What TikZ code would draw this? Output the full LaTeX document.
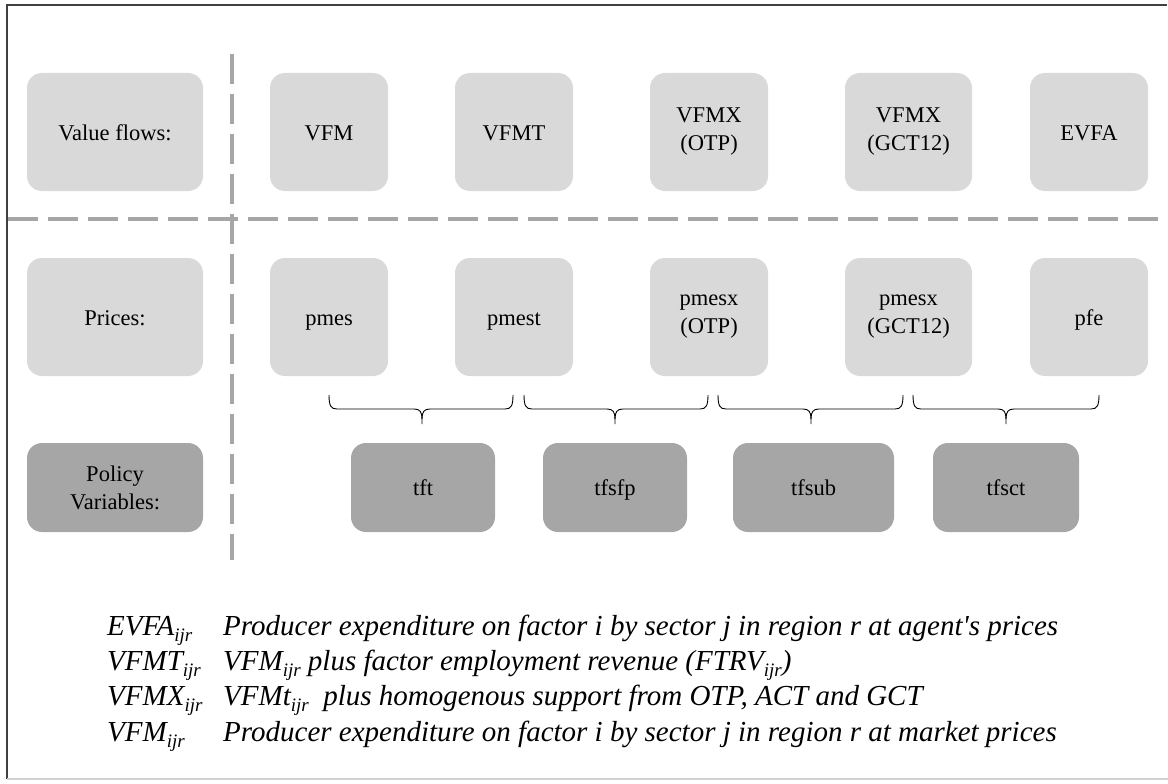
\documentclass[tikz,border=0pt]{standalone}
\usepackage{fontspec}
\setmainfont{Liberation Serif}
\definecolor{boxlight}{HTML}{D9D9D9}
\definecolor{boxdark}{HTML}{A6A6A6}
\definecolor{dashgray}{HTML}{A6A6A6}
\definecolor{framedark}{HTML}{404040}
\definecolor{framelight}{HTML}{D0D0D0}
\newcommand\ijr{\raisebox{-6pt}{\fontsize{19}{19}\selectfont ijr}}
\begin{document}
\begin{tikzpicture}[x=1pt,y=-1pt,
  boxbase/.style={rounded corners=15pt, inner sep=0pt, font=\fontsize{22.5}{28}\selectfont, text=black},
  oneline/.style={text height=16pt, text depth=0pt},
  twoline/.style={align=center},
  lightbox/.style={boxbase, fill=boxlight, minimum height=118pt},
  darkbox/.style={boxbase, fill=boxdark, minimum height=89pt},
  divider/.style={draw=dashgray, line width=4pt, dash pattern=on 30pt off 10pt},
  bracepath/.style={draw=black, line width=0.9pt},
  keytext/.style={font=\fontsize{29}{35}\selectfont\itshape, inner sep=0pt, anchor=base west},
]
\useasboundingbox (0,0) rectangle (1168,784);
% frame
\draw[draw=framedark, line width=1.5pt] (7,779) -- (7,5) -- (1167,5);
\draw[draw=framelight, line width=1.5pt] (7,779) -- (1168,779);
% dividers
\draw[divider] (8,219) -- (1161,219);
\draw[divider] (232,54) -- (232,560);
% value flows row
\node[lightbox, oneline, minimum width=176pt] (vflab) at (115,132) {Value flows:};
\node[lightbox, oneline, minimum width=118pt] (vfm) at (329,132) {VFM};
\node[lightbox, oneline, minimum width=118pt] (vfmt) at (514,132) {VFMT};
\node[lightbox, twoline, minimum width=118pt] (vfmxo) at (709,132) {VFMX\\(OTP)};
\node[lightbox, twoline, minimum width=127pt] (vfmxg) at (908.5,132) {VFMX\\(GCT12)};
\node[lightbox, oneline, minimum width=118pt] (evfa) at (1089,132) {EVFA};
% prices row
\node[lightbox, oneline, minimum width=176pt] (prlab) at (115,317) {Prices:};
\node[lightbox, oneline, minimum width=118pt] (pmes) at (329,317) {pmes};
\node[lightbox, oneline, minimum width=118pt] (pmest) at (514,317) {pmest};
\node[lightbox, twoline, minimum width=118pt] (pmesxo) at (709,317) {pmesx\\(OTP)};
\node[lightbox, twoline, minimum width=127pt] (pmesxg) at (908.5,317) {pmesx\\(GCT12)};
\node[lightbox, oneline, minimum width=118pt] (pfe) at (1089,317) {pfe};
% policy row
\node[darkbox, twoline, minimum width=176pt] (polab) at (115,487.5) {Policy\\Variables:};
\node[darkbox, oneline, minimum width=144pt] (tft) at (423,487.5) {tft};
\node[darkbox, oneline, minimum width=144pt] (tfsfp) at (615,487.5) {tfsfp};
\node[darkbox, oneline, minimum width=161pt] (tfsub) at (813.5,487.5) {tfsub};
\node[darkbox, oneline, minimum width=146pt] (tfsct) at (1006,487.5) {tfsct};
% braces
\foreach \a/\m/\b in {329/422/513, 524/615/708, 718/811/903, 913/1006/1099}{
  \draw[bracepath] (\a,395) .. controls (\a,406) and ({\a+2},409) .. ({\a+8},409)
     -- ({\m-8},409) .. controls ({\m-2},409) and (\m,412) .. (\m,419) -- (\m,424);
  \draw[bracepath] (\m,419) .. controls (\m,412) and ({\m+2},409) .. ({\m+8},409)
     -- ({\b-8},409) .. controls ({\b-2},409) and (\b,406) .. (\b,395);
}
% key
\node[keytext] (k1) at (107,635) {EVFA\ijr};
\node[keytext] (d1) at (223,635) {Producer expenditure on factor i by sector j in region r at agent\textquotesingle s prices};
\node[keytext] (k2) at (107,670) {VFMT\ijr};
\node[keytext] (d2) at (223,670) {VFM\ijr{} plus factor employment revenue (FTRV\ijr)};
\node[keytext] (k3) at (107,705) {VFMX\ijr};
\node[keytext] (d3) at (223,705) {VFMt\ijr\ \ plus homogenous support from OTP, ACT and GCT};
\node[keytext] (k4) at (107,741) {VFM\ijr};
\node[keytext] (d4) at (223,741) {Producer expenditure on factor i by sector j in region r at market prices};
\end{tikzpicture}
\end{document}
